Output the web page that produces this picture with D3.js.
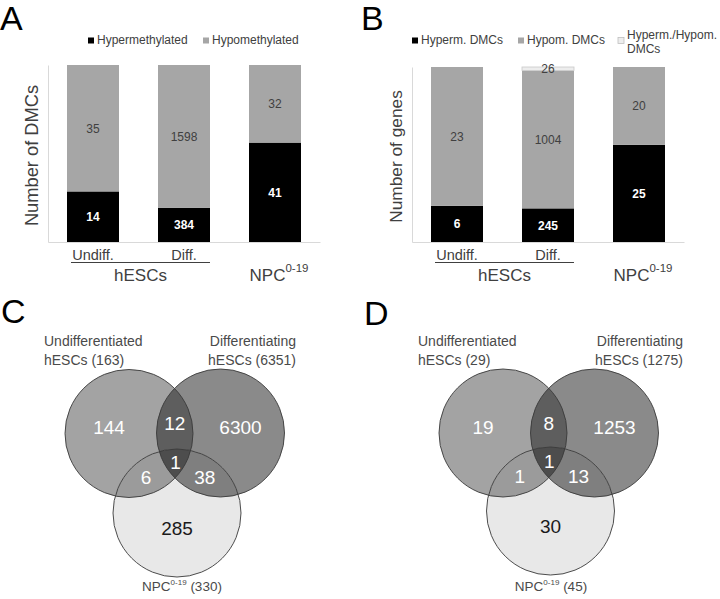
<!DOCTYPE html>
<html><head><meta charset="utf-8">
<script src="https://cdn.jsdelivr.net/npm/d3@7"></script>
<style>body{margin:0;background:#fff} svg{display:block} text{font-family:"Liberation Sans",Arial,Helvetica,sans-serif}</style>
</head><body>
<svg id="chart" width="720" height="599"></svg>
<script>
// ---------- DATA ----------
const barCategories = ["Undiff.", "Diff.", "NPC"];
const dmcSeriesNames = ["Hypermethylated", "Hypomethylated"];
const dmcHyper = [14, 384, 41];
const dmcHypo = [35, 1598, 32];
const geneSeriesNames = ["Hyperm. DMCs", "Hypom. DMCs", "Hyperm./Hypom. DMCs"];
const geneHyper = [6, 245, 25];
const geneHypo = [23, 1004, 20];
const geneBoth = [0, 26, 0];
const vennSetNames = ["Undifferentiated", "Differentiating", "NPC"];
const vennRegionNames = ["U", "D", "UD", "UDN", "UN", "DN", "N"];
const vennCTotals = [163, 6351, 330];
const vennCCounts = [144, 6300, 12, 1, 6, 38, 285];
const vennDTotals = [29, 1275, 45];
const vennDCounts = [19, 1253, 8, 1, 1, 13, 30];

// ---------- DRAWING ----------
const svg = d3.select("#chart");
const TXT = "#404040";

function panelLetter(letter, x, y) {
  svg.append("text").attr("x", x).attr("y", y).attr("font-size", 34).attr("fill", "#000").text(letter);
}

function barChart(cfg) {
  const g = svg.append("g");
  const keys = cfg.series.map((s, i) => "s" + i);
  const rows = barCategories.map((c, i) => {
    const r = {cat: c};
    cfg.values.forEach((v, k) => r["s" + k] = v[i]);
    return r;
  });
  const stacked = d3.stack().keys(keys).offset(d3.stackOffsetExpand)(rows);
  const x = d3.scaleBand().domain(barCategories).range([cfg.x0, cfg.x1]).paddingInner(0.4286).paddingOuter(0.2088);
  const y = d3.scaleLinear().domain([0, 1]).range([cfg.yBottom, cfg.yTop]);

  // axes
  const ax = g.append("g").attr("transform", `translate(${cfg.x0},0)`).call(d3.axisLeft(y).ticks(0).tickSize(0).tickSizeOuter(0));
  ax.select(".domain").attr("stroke", "#d9d9d9");
  ax.selectAll("text").remove();
  const bx = g.append("g").attr("transform", `translate(0,${cfg.yBottom})`).call(d3.axisBottom(x).tickSize(0).tickSizeOuter(0).tickFormat(""));
  bx.select(".domain").attr("stroke", "#d9d9d9");

  stacked.forEach((layer, k) => {
    g.append("g").selectAll("rect").data(layer).join("rect")
      .attr("x", d => x(d.data.cat))
      .attr("width", x.bandwidth())
      .attr("y", d => y(d[1]))
      .attr("height", d => Math.max(0, y(d[0]) - y(d[1])))
      .attr("fill", cfg.colors[k])
      .attr("stroke", cfg.strokes[k])
      .attr("stroke-width", cfg.strokes[k] === "none" ? 0 : 0.8);
    g.append("g").selectAll("text").data(layer.filter(d => d.data["s" + k] > 0)).join("text")
      .attr("x", d => x(d.data.cat) + x.bandwidth() / 2)
      .attr("y", d => (y(d[0]) + y(d[1])) / 2)
      .attr("dy", "0.36em")
      .attr("text-anchor", "middle")
      .attr("font-size", 12)
      .attr("font-weight", k === 0 ? "bold" : "normal")
      .attr("fill", k === 0 ? "#fff" : TXT)
      .text(d => d.data["s" + k]);
  });

  // legend
  cfg.series.forEach((name, k) => {
    const lx = cfg.legendX[k];
    g.append("rect").attr("x", lx).attr("y", 37.5).attr("width", 6).attr("height", 6)
      .attr("fill", cfg.colors[k]).attr("stroke", cfg.strokes[k] === "none" ? "none" : "#bfbfbf").attr("stroke-width", 0.8);
    const lines = cfg.legendLines[k];
    lines.forEach((ln, j) => {
      g.append("text").attr("x", lx + 9).attr("y", (lines.length === 1 ? 44 : 38.5) + j * 14.5)
        .attr("font-size", 12).attr("fill", TXT).text(ln);
    });
  });

  // category labels
  [0, 1].forEach(i => {
    g.append("text").attr("x", x(barCategories[i]) + x.bandwidth() / 2).attr("y", cfg.yBottom + 18)
      .attr("text-anchor", "middle").attr("font-size", 14.5).attr("fill", TXT).text(barCategories[i]);
  });
  const bl = x(barCategories[0]) + 4, br = x(barCategories[1]) + x.bandwidth();
  g.append("line").attr("x1", bl).attr("x2", br).attr("y1", cfg.yBottom + 20.5).attr("y2", cfg.yBottom + 20.5)
    .attr("stroke", "#404040").attr("stroke-width", 1);
  g.append("text").attr("x", (bl + br) / 2).attr("y", cfg.yBottom + 39).attr("text-anchor", "middle")
    .attr("font-size", 17).attr("fill", TXT).text("hESCs");
  const npc = g.append("text").attr("x", x(barCategories[2]) + x.bandwidth() / 2 + 4).attr("y", cfg.yBottom + 39)
    .attr("text-anchor", "middle").attr("font-size", 17).attr("fill", TXT);
  npc.append("tspan").text(barCategories[2]);
  npc.append("tspan").attr("font-size", 11.5).attr("dy", -9).text("0-19");

  // y title
  g.append("text").attr("transform", `translate(${cfg.titleX},${(cfg.yTop + cfg.yBottom) / 2 + 2}) rotate(-90)`)
    .attr("text-anchor", "middle").attr("dy", "0.35em").attr("font-size", cfg.titleSize).attr("fill", TXT).text(cfg.yTitle);
}

barChart({
  x0: 48, x1: 320, yTop: 65, yBottom: 242,
  series: dmcSeriesNames, values: [dmcHyper, dmcHypo],
  colors: ["#000000", "#a6a6a6"], strokes: ["none", "none"],
  legendX: [88, 203], legendLines: [[dmcSeriesNames[0]], [dmcSeriesNames[1]]],
  yTitle: "Number of DMCs", titleX: 31.5, titleSize: 18.3
});
barChart({
  x0: 412, x1: 684, yTop: 67, yBottom: 242,
  series: geneSeriesNames, values: [geneHyper, geneHypo, geneBoth],
  colors: ["#000000", "#a6a6a6", "#ededed"], strokes: ["none", "none", "#c8c8c8"],
  legendX: [412, 518, 618], legendLines: [[geneSeriesNames[0]], [geneSeriesNames[1]], ["Hyperm./Hypom.", "DMCs"]],
  yTitle: "Number of genes", titleX: 396, titleSize: 17.3
});

let vennId = 0;
function venn(L, totals, counts) {
  const id = "v" + (vennId++);
  const g = svg.append("g");
  const defs = g.append("defs");
  const C = L.centers;
  C.forEach((c, i) => defs.append("clipPath").attr("id", `${id}c${i}`).append("circle").attr("cx", c[0]).attr("cy", c[1]).attr("r", L.r));
  const circ = (sel, i, fill) => sel.append("circle").attr("cx", C[i][0]).attr("cy", C[i][1]).attr("r", L.r).attr("fill", fill);
  const fills = ["#a3a3a3", "#8a8a8a", "#e8e8e8"];
  fills.forEach((f, i) => circ(g, i, f));
  circ(g.append("g").attr("clip-path", `url(#${id}c0)`), 1, "#5e5e5e");
  circ(g.append("g").attr("clip-path", `url(#${id}c0)`), 2, "#9b9b9b");
  circ(g.append("g").attr("clip-path", `url(#${id}c1)`), 2, "#7f7f7f");
  circ(g.append("g").attr("clip-path", `url(#${id}c0)`).append("g").attr("clip-path", `url(#${id}c1)`), 2, "#4d4d4d");
  C.forEach((c, i) => g.append("circle").attr("cx", c[0]).attr("cy", c[1]).attr("r", L.r)
    .attr("fill", "none").attr("stroke", "#3a3a3a").attr("stroke-width", 0.9));

  const mid = (a, b) => [(C[a][0] + C[b][0]) / 2, (C[a][1] + C[b][1]) / 2];
  const cen = [(C[0][0] + C[1][0] + C[2][0]) / 3, (C[0][1] + C[1][1] + C[2][1]) / 3];
  const pos = {
    U: [C[0][0] - 20, C[0][1] - 6], D: [C[1][0] + 20, C[1][1] - 6],
    UD: [mid(0, 1)[0], mid(0, 1)[1] - 10], UDN: [cen[0], cen[1] + 2],
    UN: [mid(0, 2)[0] - 7, mid(0, 2)[1] + 4], DN: [mid(1, 2)[0] + 6, mid(1, 2)[1] + 4],
    N: [C[2][0], C[2][1] + 15]
  };
  vennRegionNames.forEach((k, i) => {
    g.append("text").attr("x", pos[k][0]).attr("y", pos[k][1]).attr("dy", "0.36em").attr("text-anchor", "middle")
      .attr("font-size", 19).attr("fill", k === "N" ? "#1a1a1a" : "#fff").text(counts[i]);
  });

  const tcol = "#4a4a4a";
  g.append("text").attr("x", L.leftX).attr("y", 346).attr("font-size", 14).attr("fill", tcol).text(vennSetNames[0]);
  g.append("text").attr("x", L.leftX).attr("y", 365).attr("font-size", 14).attr("fill", tcol).text(`hESCs (${totals[0]})`);
  g.append("text").attr("x", L.rightX).attr("y", 346).attr("text-anchor", "end").attr("font-size", 14).attr("fill", tcol).text(vennSetNames[1]);
  g.append("text").attr("x", L.rightX).attr("y", 365).attr("text-anchor", "end").attr("font-size", 14).attr("fill", tcol).text(`hESCs (${totals[1]})`);
  const b = g.append("text").attr("x", L.bottomX).attr("y", 591).attr("text-anchor", "middle").attr("font-size", 13.5).attr("fill", tcol);
  b.append("tspan").text(vennSetNames[2]);
  b.append("tspan").attr("font-size", 8).attr("dy", -6).text("0-19");
  b.append("tspan").attr("dy", 6).text(` (${totals[2]})`);
}

venn({centers: [[129, 433.5], [220.5, 433], [177, 513]], r: 64, leftX: 44, rightX: 296, bottomX: 182}, vennCTotals, vennCCounts);
venn({centers: [[503, 433], [594.5, 433], [550.5, 511]], r: 64, leftX: 418, rightX: 683, bottomX: 551}, vennDTotals, vennDCounts);

panelLetter("A", 0, 30);
panelLetter("B", 361, 30);
panelLetter("C", 1, 323);
panelLetter("D", 364, 325);
</script>
</body></html>
